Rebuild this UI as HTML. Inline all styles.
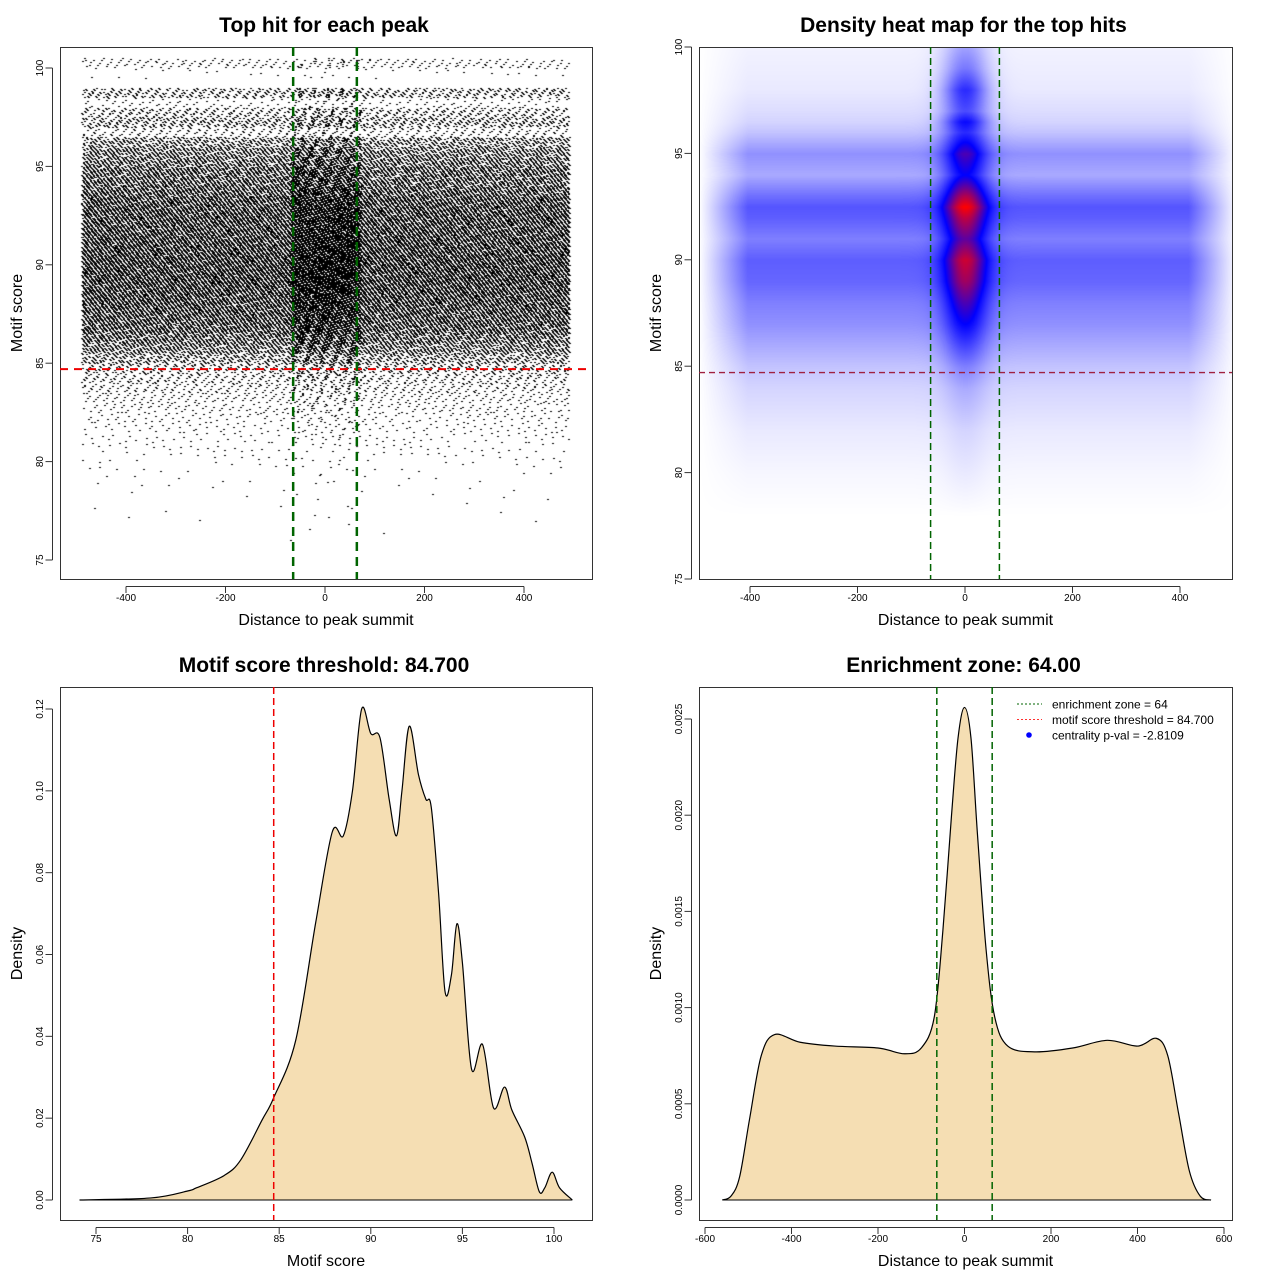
<!DOCTYPE html>
<html><head><meta charset="utf-8">
<style>
html,body{margin:0;padding:0;background:#fff;}
#wrap{position:relative;width:1280px;height:1280px;overflow:hidden;font-family:"Liberation Sans",sans-serif;}
canvas{position:absolute;}
svg{position:absolute;left:0;top:0;}
</style></head>
<body>
<div id="wrap">
<canvas id="scat" width="532" height="532" style="left:60px;top:47px"></canvas>
<canvas id="heat" width="533" height="532" style="left:699px;top:47px"></canvas>
<svg id="svg" width="1280" height="1280"></svg>
</div>
<script>
// ---------- data ----------
const scatterBins = [76,76.5,77,77.5,78,78.5,79,79.5,80,80.5,81,81.5,82,82.5,83,83.5,84,84.5,85,85.5,86,86.5,87,87.5,88,88.5,89,89.5,90,90.5,91,91.5,92,92.5,93,93.5,94,94.5,95,95.5,96,96.5,97,97.5,98,98.5,99,99.5,100];
const scatterCounts = [2,3,5,6,8,10,15,25,40,60,80,110,140,180,230,300,380,500,800,1200,1600,2000,2200,2400,2600,2800,3000,3000,3000,2800,2800,2600,2600,2600,2400,2000,1800,1800,1400,1200,900,300,700,500,150,600,0,30,250];
const heatScores = [78,80,82,84,85,86,87,88,89,90,91,92,92.5,93,94,95,96,96.5,97,98,99,100,101];
const heatSide =   [0,0.02,0.05,0.1,0.14,0.2,0.26,0.3,0.36,0.38,0.3,0.38,0.4,0.34,0.2,0.26,0.14,0.1,0.08,0.05,0.04,0.03,0];
const heatCenter = [0,0.05,0.1,0.2,0.3,0.45,0.6,0.72,0.85,0.92,0.75,0.9,1.0,0.88,0.6,0.72,0.5,0.58,0.42,0.5,0.32,0.22,0.05];
const scoreX = [74.1,78,80,80.5,82,82.9,84.06,84.7,85.9,87,87.9,88.5,89,89.5,90,90.5,91,91.4,91.7,92.1,92.6,93,93.3,93.7,94.05,94.4,94.7,95,95.5,96.1,96.7,97.3,97.7,98.4,98.8,99.2,99.5,99.9,100.3,101];
const scoreY = [0,0.0005,0.0022,0.003,0.006,0.0098,0.0195,0.025,0.039,0.068,0.09,0.089,0.1,0.12,0.114,0.113,0.098,0.089,0.1,0.1158,0.104,0.098,0.096,0.075,0.051,0.055,0.0675,0.058,0.032,0.038,0.0225,0.0276,0.022,0.0154,0.009,0.002,0.003,0.0068,0.003,0];
const distX = [-560,-540,-520,-497,-470,-439,-380,-300,-200,-139,-100,-70,-50,-30,-15,0,15,30,50,70,100,162,250,330,400,444,470,495,520,545,570];
const distY = [0,0.00002,0.00012,0.00042,0.00075,0.00086,0.00082,0.0008,0.00079,0.00076,0.00079,0.00095,0.0014,0.002,0.0024,0.00256,0.0024,0.0019,0.0013,0.00095,0.0008,0.00077,0.00079,0.00083,0.0008,0.00084,0.00075,0.00045,0.00015,0.00002,0];
const xTicks1 = [-400,-200,0,200,400];
const yTicks1 = [75,80,85,90,95,100];
const xTicks3 = [75,80,85,90,95,100];
const yTicks3 = [0,0.02,0.04,0.06,0.08,0.10,0.12];
const yLabels3 = ["0.00","0.02","0.04","0.06","0.08","0.10","0.12"];
const xTicks4 = [-600,-400,-200,0,200,400,600];
const yTicks4 = [0,0.0005,0.001,0.0015,0.002,0.0025];
const yLabels4 = ["0.0000","0.0005","0.0010","0.0015","0.0020","0.0025"];
const threshold = 84.7, zone = 64;

// ---------- scales ----------
const lin=(d0,d1,r0,r1)=>v=>r0+(v-d0)*(r1-r0)/(d1-d0);
const x1=lin(-400,400,126,524), y1=lin(75,100,560,68);
const x2=lin(-400,400,750,1180), y2=lin(75,100,579,47);
const x3=lin(75,100,96,554), y3=lin(0,0.12,1200,709);
const x4=lin(-600,600,705,1224), y4=lin(0,0.0025,1200,719);

const NS="http://www.w3.org/2000/svg", svg=document.getElementById('svg');
function el(tag,attrs,parent){const e=document.createElementNS(NS,tag);for(const k in attrs)e.setAttribute(k,attrs[k]);(parent||svg).appendChild(e);return e;}
function txt(s,x,y,size,opts){const t=el('text',Object.assign({x:x,y:y,'font-size':size,'text-anchor':'middle','font-family':'Liberation Sans, sans-serif',fill:'#000'},opts||{}));t.textContent=s;return t;}

function frame(bx,by,bw,bh,title,xt,yt,xs,ys,xticks,xlabels,yticks,ylabels,key){
  const g=el('g',{});
  
  
  const r=el('rect',{x:bx+0.5,y:by+0.5,width:bw,height:bh,fill:'none',stroke:'#333','stroke-width':1},g);
  
  
  const t=txt(title,bx+bw/2-2,by-15,21,{'font-weight':'bold'});g.appendChild(t);
  
  
  const xa=el('g',{},g);
  
  
  const b=by+bh;
  el('line',{x1:xs(xticks[0]),x2:xs(xticks[xticks.length-1]),y1:b+7.5,y2:b+7.5,stroke:'#333'},xa);
  xticks.forEach((v,i)=>{el('line',{x1:xs(v),x2:xs(v),y1:b+7.5,y2:b+14,stroke:'#333'},xa);
    const l=txt(xlabels[i],xs(v),b+22,10);xa.appendChild(l);});
  const xl=txt(xt,bx+bw/2,b+46,16);g.appendChild(xl);
  
  
  const ya=el('g',{},g);
  
  
  const lx=bx-7.5;
  el('line',{x1:lx,x2:lx,y1:ys(yticks[0]),y2:ys(yticks[yticks.length-1]),stroke:'#333'},ya);
  yticks.forEach((v,i)=>{el('line',{x1:lx,x2:lx-7,y1:ys(v),y2:ys(v),stroke:'#333'},ya);
    const yy=ys(v);const l=txt(ylabels[i],bx-17,yy,10,{transform:`rotate(-90 ${bx-17} ${yy})`});ya.appendChild(l);});
  const yl=txt(yt,bx-38,by+bh/2,16,{transform:`rotate(-90 ${bx-38} ${by+bh/2})`});g.appendChild(yl);
  
  
}

// ---------- panel 1 scatter ----------
(function(){
  const c=document.getElementById('scat').getContext('2d');c.fillStyle='#000';
  scatterBins.forEach((s,bi)=>{
    const n=scatterCounts[bi];
    for(let i=0;i<n;i++){
      const fx=(i*0.6180339887+bi*0.3119)%1, fy=(i*0.7548776662+bi*0.17)%1;
      let dx=-490+fx*980;
      if(i%14===0){dx=(((i*0.41421356+bi*0.27)%1)*2-1)*70;}
      const dy = fy*0.5;
      c.fillRect(Math.round(x1(dx))-60,Math.round(y1(s+dy))-47,2,1);
    }
  });
  frame(60,47,532,532,'Top hit for each peak','Distance to peak summit','Motif score',x1,y1,xTicks1,xTicks1.map(String),yTicks1,yTicks1.map(String),'scatter');
  const h=el('line',{x1:60,x2:592,y1:y1(threshold),y2:y1(threshold),stroke:'#e00','stroke-width':2,'stroke-dasharray':'8,6'});
  
  [-zone,zone].forEach(z=>{const l=el('line',{x1:x1(z),x2:x1(z),y1:47,y2:579,stroke:'#006400','stroke-width':2.5,'stroke-dasharray':'9,6'});
    });
})();

// ---------- panel 2 heatmap ----------
function interp(xs,ys,v){if(v<=xs[0])return ys[0];for(let i=1;i<xs.length;i++)if(v<=xs[i]){const t=(v-xs[i-1])/(xs[i]-xs[i-1]);return ys[i-1]+t*(ys[i]-ys[i-1]);}return ys[ys.length-1];}
(function(){
  const cv=document.getElementById('heat'),c=cv.getContext('2d');
  const W=533,H=532,img=c.createImageData(W,H);
  const sx=lin(750,1180,-400,400), sy=lin(579,47,75,100);
  for(let py=0;py<H;py++){
    const s=sy(py+47), side=interp(heatScores,heatSide,s), cen=interp(heatScores,heatCenter,s);
    for(let px=0;px<W;px++){
      const d=sx(px+699);
      const g=Math.exp(-Math.pow(d/42,2));
      const xf=Math.min(1,Math.max(0,(500-Math.abs(d-5))/90));
      let v=side*xf*(1-g)+cen*g;
      let r,gg,b;
      if(v<0.6){const t=v/0.6;r=255*(1-t);gg=255*(1-t);b=255;}
      else{const t=Math.min(1,(v-0.6)/0.4);r=255*t;gg=0;b=255*(1-t);}
      const k=(py*W+px)*4;img.data[k]=r;img.data[k+1]=gg;img.data[k+2]=b;img.data[k+3]=255;
    }
  }
  c.putImageData(img,0,0);
  frame(699,47,533,532,'Density heat map for the top hits','Distance to peak summit','Motif score',x2,y2,xTicks1,xTicks1.map(String),yTicks1,yTicks1.map(String),'heatmap');
  const h=el('line',{x1:699,x2:1232,y1:y2(threshold),y2:y2(threshold),stroke:'#a02040','stroke-width':1.3,'stroke-dasharray':'6,4'});
  
  [-zone,zone].forEach(z=>{const l=el('line',{x1:x2(z),x2:x2(z),y1:47,y2:579,stroke:'#006400','stroke-width':1.5,'stroke-dasharray':'7,4'});
    });
})();

// ---------- density curve helper ----------
function smooth(xs,ys,fx,fy){
  const p=xs.map((v,i)=>[fx(v),fy(ys[i])]);
  let d=`M${p[0][0]},${p[0][1]}`;
  for(let i=0;i<p.length-1;i++){
    const p0=p[Math.max(0,i-1)],p1=p[i],p2=p[i+1],p3=p[Math.min(p.length-1,i+2)];
    const c1=[p1[0]+(p2[0]-p0[0])/6,p1[1]+(p2[1]-p0[1])/6],c2=[p2[0]-(p3[0]-p1[0])/6,p2[1]-(p3[1]-p1[1])/6];
    d+=` C${c1[0]},${c1[1]} ${c2[0]},${c2[1]} ${p2[0]},${p2[1]}`;
  }
  return d;
}

// ---------- panel 3 ----------
(function(){
  frame(60,687,532,533,'Motif score threshold: 84.700','Motif score','Density',x3,y3,xTicks3,xTicks3.map(String),yTicks3,yLabels3,'score-density');
  const d=smooth(scoreX,scoreY,x3,y3);
  const a=el('path',{d:d+` L${x3(scoreX[scoreX.length-1])},${y3(0)} L${x3(scoreX[0])},${y3(0)} Z`,fill:'#f5deb3',stroke:'none'});
  
  const l=el('path',{d:d,fill:'none',stroke:'#000','stroke-width':1.2});
  
  el('line',{x1:x3(scoreX[0]),x2:x3(scoreX[scoreX.length-1]),y1:y3(0),y2:y3(0),stroke:'#000','stroke-width':1});
  const t=el('line',{x1:x3(threshold),x2:x3(threshold),y1:687,y2:1220,stroke:'#e00','stroke-width':1.5,'stroke-dasharray':'7,4'});
  
})();

// ---------- panel 4 ----------
(function(){
  frame(699,687,533,533,'Enrichment zone: 64.00','Distance to peak summit','Density',x4,y4,xTicks4,xTicks4.map(String),yTicks4,yLabels4,'distance-density');
  const d=smooth(distX,distY,x4,y4);
  const a=el('path',{d:d+` L${x4(distX[distX.length-1])},${y4(0)} L${x4(distX[0])},${y4(0)} Z`,fill:'#f5deb3',stroke:'none'});
  
  const l=el('path',{d:d,fill:'none',stroke:'#000','stroke-width':1.2});
  
  el('line',{x1:x4(distX[0]),x2:x4(distX[distX.length-1]),y1:y4(0),y2:y4(0),stroke:'#000','stroke-width':1});
  [-zone,zone].forEach(z=>{const g=el('line',{x1:x4(z),x2:x4(z),y1:687,y2:1220,stroke:'#006400','stroke-width':1.5,'stroke-dasharray':'7,4'});
    });
  const lg=el('g',{});
  
  const items=[['enrichment zone = 64','#006400','line'],['motif score threshold = 84.700','#ff3030','line'],['centrality p-val = -2.8109','#0000ff','dot']];
  items.forEach((it,i)=>{const y=704+i*15.5;
    const e=el('g',{},lg);
    
    if(it[2]==='line')el('line',{x1:1017,x2:1042,y1:y,y2:y,stroke:it[1],'stroke-width':1,'stroke-dasharray':'2,2'},e);
    else el('circle',{cx:1029,cy:y,r:2.8,fill:it[1]},e);
    const t=txt(it[0],1052,y+4.5,12,{'text-anchor':'start'});e.appendChild(t);});
})();
</script>
</body></html>
